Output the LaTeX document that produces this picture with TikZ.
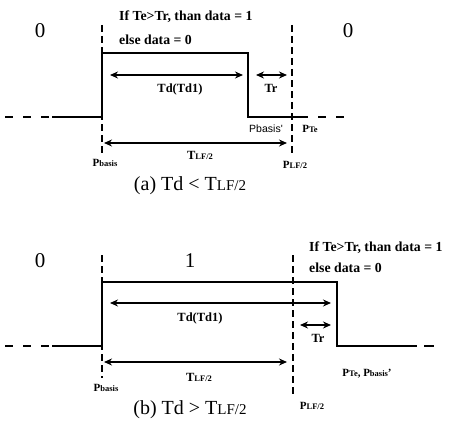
\documentclass[tikz,border=0pt]{standalone}
\usepackage{fontspec}
\setmainfont{Liberation Serif}
\newfontfamily\sansf{Liberation Sans}
\usetikzlibrary{arrows.meta}
% smaller index letters placed after a symbol
\newcommand\idx[1]{{\fontsize{8.5}{9}\selectfont #1}}
\newcommand\capidx[1]{{\fontsize{15}{17}\selectfont #1}}
\begin{document}
\begin{tikzpicture}[x=1pt,y=-1pt,
  pulse/.style={line width=1.9pt},
  guide/.style={line width=1.9pt, dash pattern=on 7pt off 4pt},
  tail/.style={line width=2.2pt, dash pattern=on 8pt off 10pt},
  span/.style={line width=1.4pt, {Stealth[length=8pt,width=7pt]}-{Stealth[length=8pt,width=7pt]}},
  lbl/.style={font=\bfseries\fontsize{12.5}{14}\selectfont, inner sep=0pt},
  plbl/.style={font=\bfseries\fontsize{11}{13}\selectfont, inner sep=0pt},
  bit/.style={font=\fontsize{21}{24}\selectfont, inner sep=0pt},
  rule/.style={font=\bfseries\fontsize{13.8}{16}\selectfont, inner sep=0pt, anchor=west},
  captext/.style={font=\fontsize{20}{23}\selectfont, inner sep=0pt}]
\useasboundingbox (0,0) rectangle (463,428);

% ---------- (a) Td < TLF/2 ----------
\coordinate (a0) at (5,117);
\coordinate (a1) at (52,117);
\coordinate (aR) at (102,117);
\coordinate (aT1) at (102,53);
\coordinate (aT2) at (248,53);
\coordinate (aF) at (248,117);
\coordinate (aE) at (300,117);
\coordinate (aZ) at (350,117);
\draw[tail] (a0) -- (a1);
\draw[pulse] (a1) -- (aR) -- (aT1) -- (aT2) -- (aF) -- (aE);
\draw[tail] (aE) -- (aZ);

\coordinate (aG1) at (102,25);
\coordinate (aG1b) at (102,153);
\coordinate (aG2) at (292,25);
\coordinate (aG2b) at (292,155);
\draw[guide] (aG1) -- (aG1b);
\draw[guide] (aG2) -- (aG2b);

\coordinate (aTdL) at (110,75);
\coordinate (aTdR) at (243,75);
\coordinate (aTrL) at (256,75);
\coordinate (aTrR) at (287,75);
\coordinate (aTlL) at (104,143);
\coordinate (aTlR) at (287,143);
\draw[span] (aTdL) -- (aTdR);
\draw[span] (aTrL) -- (aTrR);
\draw[span] (aTlL) -- (aTlR);

\node[bit] (a0bit) at (40,31) {0};
\node[bit] (a1bit) at (348,31) {0};
\node[rule] (aRule1) at (119,17) {If Te>Tr, than data = 1};
\node[rule] (aRule2) at (119,40) {else data = 0};
\node[lbl] (aTd) at (180,89) {Td(Td1)};
\node[lbl] (aTr) at (271,88) {Tr};
\node[inner sep=0pt, font=\sansf\fontsize{10.5}{12}\selectfont] (aPb2) at (266,129) {Pbasis'};
\node[plbl] (aPte) at (310,129) {P\idx{Te}};
\node[lbl] (aTlf) at (200,155) {T\idx{LF/2}};
\node[plbl] (aPb) at (105,163) {P\idx{basis}};
\node[plbl] (aPlf) at (295,165) {P\idx{LF/2}};
\node[captext] (aCap) at (190,186) {(a) Td < T\capidx{LF/2}};

% ---------- (b) Td > TLF/2 ----------
\coordinate (b0) at (5,346);
\coordinate (b1) at (52,346);
\coordinate (bR) at (102,346);
\coordinate (bT1) at (102,282);
\coordinate (bT2) at (337,282);
\coordinate (bF) at (337,346);
\coordinate (bE) at (407,346);
\coordinate (bZ) at (440,346);
\draw[tail] (b0) -- (b1);
\draw[pulse] (b1) -- (bR) -- (bT1) -- (bT2) -- (bF) -- (bE);
\draw[tail, dash pattern=on 10pt off 7pt] (bE) -- (bZ);

\coordinate (bG1) at (102,255);
\coordinate (bG1b) at (102,378);
\coordinate (bG2) at (293,255);
\coordinate (bG2b) at (293,395);
\draw[guide] (bG1) -- (bG1b);
\draw[guide] (bG2) -- (bG2b);

\coordinate (bTdL) at (110,303);
\coordinate (bTdR) at (331,303);
\coordinate (bTrL) at (300,325);
\coordinate (bTrR) at (331,325);
\coordinate (bTlL) at (104,362);
\coordinate (bTlR) at (287,362);
\draw[span] (bTdL) -- (bTdR);
\draw[span] (bTrL) -- (bTrR);
\draw[span] (bTlL) -- (bTlR);

\node[bit] (b0bit) at (40,261) {0};
\node[bit] (b1bit) at (190,261) {1};
\node[rule] (bRule1) at (309,248) {If Te>Tr, than data = 1};
\node[rule] (bRule2) at (309,268) {else data = 0};
\node[lbl] (bTd) at (200,318) {Td(Td1)};
\node[lbl] (bTr) at (318,338) {Tr};
\node[plbl] (bPte) at (367,374) {P\idx{Te}, P\idx{basis}'};
\node[lbl] (bTlf) at (199,377) {T\idx{LF/2}};
\node[plbl] (bPb) at (106,388) {P\idx{basis}};
\node[plbl] (bPlf) at (312,406) {P\idx{LF/2}};
\node[captext] (bCap) at (190,410) {(b) Td > T\capidx{LF/2}};
\end{tikzpicture}
\end{document}
